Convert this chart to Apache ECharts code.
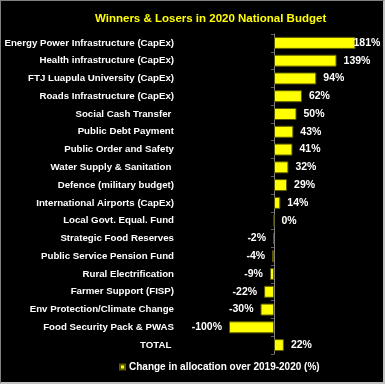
<!DOCTYPE html>
<html><head><meta charset="utf-8">
<script src="https://cdn.jsdelivr.net/npm/echarts@6/dist/echarts.min.js"></script>
<style>
html,body{margin:0;padding:0;background:#000;}
#c{width:385px;height:384px;box-sizing:border-box;border-left:1px solid #808080;border-top:1px solid #808080;border-right:2px solid #c0c0c0;border-bottom:2px solid #c0c0c0;background:#000;}
</style></head><body>
<div id="c"></div>
<script>
var titleText = 'Winners & Losers in 2020 National Budget';
var seriesName = 'Change in allocation over 2019-2020 (%)';
var categories = ['Energy Power Infrastructure (CapEx)','Health infrastructure (CapEx)','FTJ Luapula University (CapEx)','Roads Infrastructure (CapEx)','Social Cash Transfer ','Public Debt Payment','Public Order and Safety','Water Supply & Sanitation ','Defence (military budget)','International Airports (CapEx)','Local Govt. Equal. Fund','Strategic Food Reserves','Public Service Pension Fund','Rural Electrification','Farmer Support (FISP)','Env Protection/Climate Change','Food Security Pack & PWAS','TOTAL '];
var values = [181,139,94,62,50,43,41,32,29,14,0,-2,-4,-9,-22,-30,-100,22];

var font = '"Liberation Sans", Arial, sans-serif';
var chart = echarts.init(document.getElementById('c'));
var maxV = Math.max.apply(null, values);
var data = values.map(function(v){
  var lab = {position: v < 0 ? 'left' : 'right'};
  if (v === maxV) lab.distance = -2;
  return {value:v, label:lab};
});
chart.setOption({
  backgroundColor:'#000',
  animation:false,
  title:{text:titleText,left:89,top:7,textStyle:{color:'#ffff00',fontFamily:font,fontWeight:'bold',fontSize:11.5}},
  legend:{data:[seriesName],left:113,bottom:5,icon:'rect',itemWidth:5,itemHeight:5,itemGap:4,
    textStyle:{color:'#fff',fontFamily:font,fontWeight:'bold',fontSize:10,padding:[0,0,0,-1]}},
  grid:{left:183,right:19,top:33,bottom:28,outerBoundsMode:'none',containLabel:false},
  xAxis:{type:'value',min:-200,max:200,axisLabel:{show:false},axisLine:{show:false},axisTick:{show:false},splitLine:{show:false}},
  yAxis:[
    {type:'category',data:categories,inverse:true,axisLine:{show:false,onZero:false},axisTick:{show:false},
     axisLabel:{color:'#fff',fontFamily:font,fontWeight:'bold',fontSize:9.7,margin:10}},
    {type:'category',data:categories,inverse:true,position:'left',
     axisLine:{show:true,onZero:true,lineStyle:{color:'#808080',width:1}},
     axisTick:{show:true,length:3,lineStyle:{color:'#606060'}},axisLabel:{show:false}}
  ],
  series:[{name:seriesName,type:'bar',data:data,barWidth:12,
    itemStyle:{color:'#ffff00',borderColor:'#5a5a00',borderWidth:1},
    label:{show:true,distance:7,formatter:'{c}%',color:'#fff',fontFamily:font,fontWeight:'bold',fontSize:10.5}
  }]
});
</script></body></html>
